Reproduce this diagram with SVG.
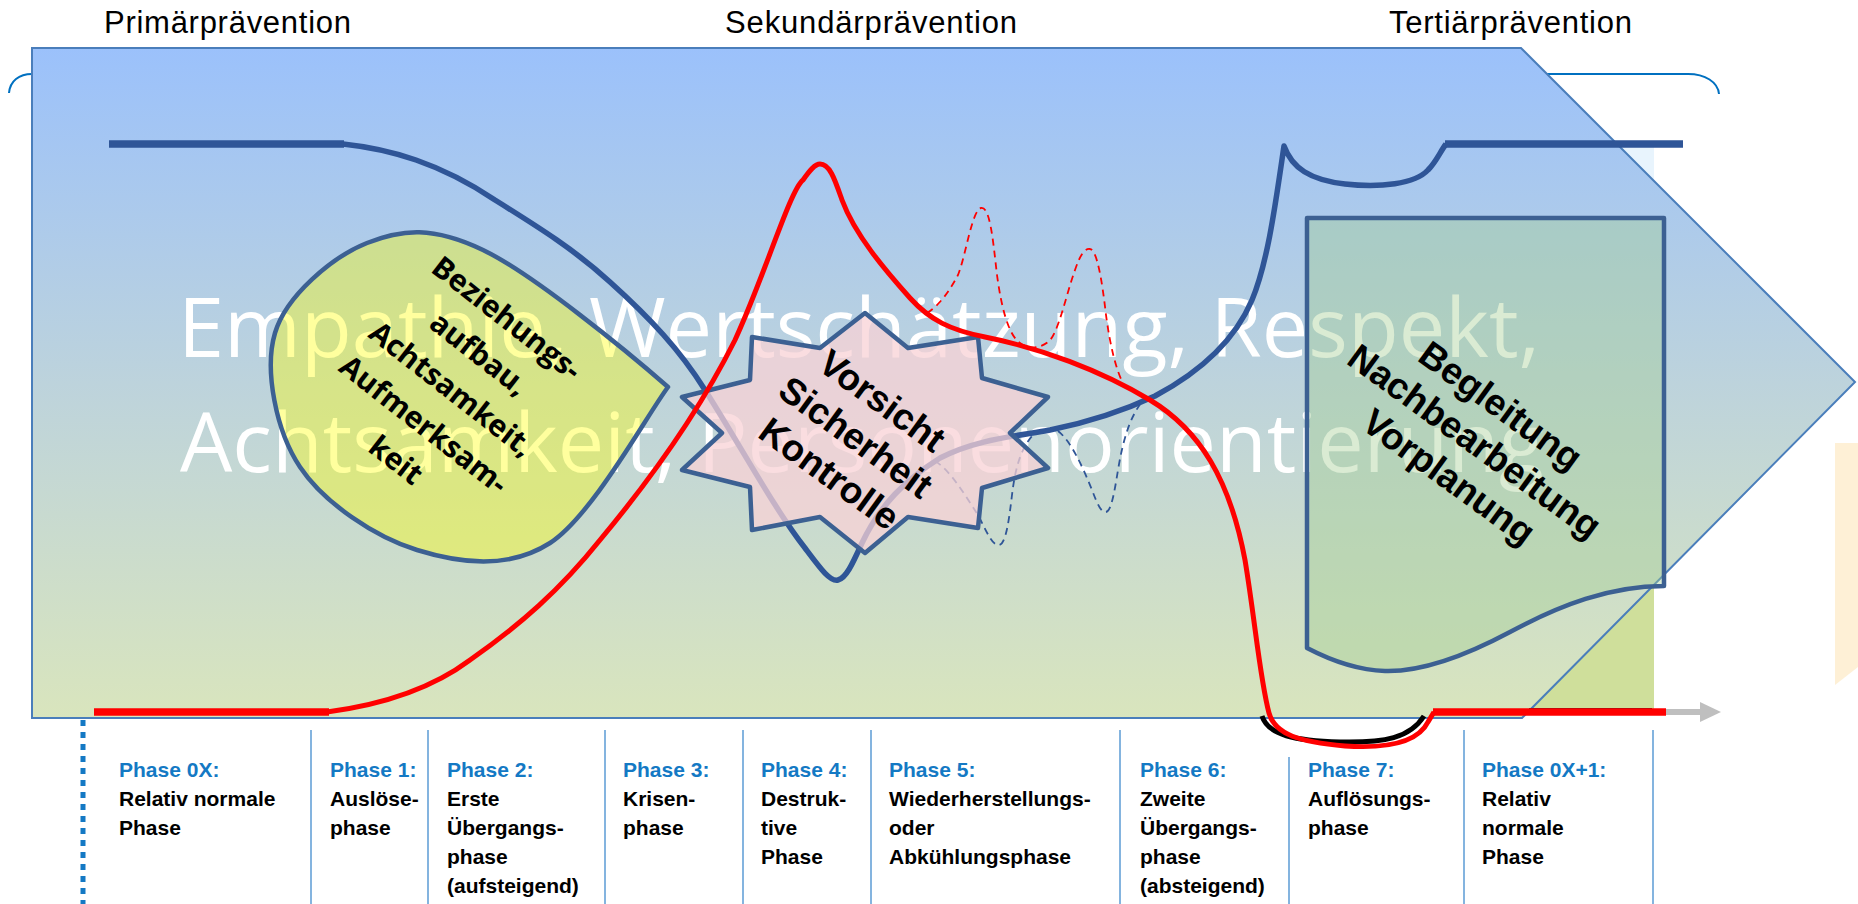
<svg xmlns="http://www.w3.org/2000/svg" width="1858" height="904" viewBox="0 0 1858 904">
  <defs>
    <linearGradient id="bandFill" gradientUnits="userSpaceOnUse" x1="0" y1="48" x2="0" y2="718">
      <stop offset="0" stop-color="#9BC1FB"/>
      <stop offset="0.5" stop-color="#BDD3DC"/>
      <stop offset="1" stop-color="#D9E5BD"/>
    </linearGradient>
    <linearGradient id="backFill" gradientUnits="userSpaceOnUse" x1="0" y1="147" x2="0" y2="709">
      <stop offset="0" stop-color="#E8F4FD"/>
      <stop offset="0.7" stop-color="#E8F4FD"/>
      <stop offset="0.76" stop-color="#CFDF9B"/>
      <stop offset="1" stop-color="#CFDF9B"/>
    </linearGradient>
    <style>
      .head { font-family: "Liberation Sans", Arial, sans-serif; font-size: 31px; fill: #000; }
      .mark { font-family: "Open Sans", "Liberation Sans", sans-serif; font-size: 83px; fill: #FFFFFF; }
      .drop { font-family: "Open Sans", "Liberation Sans", sans-serif; font-size: 30px; font-weight: bold; fill: #000; text-anchor: middle; }
      .bold { font-family: "Liberation Sans", Arial, sans-serif; font-size: 37px; font-weight: bold; fill: #000; text-anchor: middle; }
      .ph { font-family: "Liberation Sans", Arial, sans-serif; font-size: 21px; font-weight: bold; fill: #000; }
      .phn { fill: #1479C4; }
      .sep { stroke: #5B9BD5; stroke-width: 1.5; fill: none; }
      .shape { stroke: #3C6092; stroke-width: 4.5; stroke-linejoin: round; }
      .blue { stroke: #2F5597; fill: none; stroke-linecap: butt; stroke-linejoin: round; }
      .red { stroke: #FF0000; fill: none; stroke-linejoin: round; }
      .dash { stroke-width: 1.8; stroke-dasharray: 7 5; fill: none; }
    </style>
  </defs>

  <rect width="1858" height="904" fill="#FFFFFF"/>

  <!-- bracket spanning the three prevention levels -->
  <path id="bracket" d="M9,93 C10,81 19,74 32,74 H1688 C1705,74 1718,82 1719,94" fill="none" stroke="#0070C0" stroke-width="2"/>

  <!-- background panels behind the band -->
  <rect id="tertiary-panel" x="1300" y="147" width="354" height="562" fill="url(#backFill)"/>
  <polygon id="side-panel" points="1835,443 1858,443 1858,667 1835,685" fill="#FEF0D6"/>

  <!-- main band arrow -->
  <polygon id="band" points="32,48 1521,48 1855,382 1522,718 32,718" fill="url(#bandFill)" stroke="#4A7EBB" stroke-width="2" stroke-linejoin="miter"/>

  <!-- watermark values -->
  <g id="values">
    <text class="mark" x="178" y="357" textLength="1362" lengthAdjust="spacingAndGlyphs">Empathie, Wertschätzung, Respekt,</text>
    <text class="mark" x="180" y="472" textLength="1364" lengthAdjust="spacingAndGlyphs">Achtsamkeit, Personenorientierung</text>
  </g>

  <!-- teardrop: relationship building -->
  <g id="node-beziehung">
    <path class="shape" d="M668,387 C628,352 533,274 483,250 C433,226 402,229 367,243 C332,257 286,296 275,333 C264,370 276,431 300,467 C324,503 375,537 417,550 C459,563 508,570 550,543 C592,516 647,415 668,387 Z" fill="#FFFF00" fill-opacity="0.38"/>
  </g>

  <!-- document shape: aftercare -->
  <g id="node-begleitung">
    <path class="shape" d="M1307,218 H1664 V586 C1610,586 1560,605 1510,632 C1465,656 1420,672 1385,671 C1355,670 1330,660 1307,648 Z" fill="#A3CE91" fill-opacity="0.4"/>
  </g>

  <g id="connectors">
    <!-- tension curve (blue) -->
    <path class="blue" stroke-width="7.5" d="M109,144 H344"/>
    <path class="blue" stroke-width="5.5" d="M343,144 C390,149 440,163 495,200 C540,228 575,250 610,282 C650,318 680,350 705,390 C740,445 775,510 805,548 C820,568 830,582 838,580 C846,578 852,565 862,543 C880,505 905,480 940,458 C975,440 1010,437 1050,430 C1090,422 1125,410 1155,396 C1200,372 1235,340 1252,300 C1268,262 1276,200 1284,146 C1292,168 1310,180 1345,184 C1380,188 1415,184 1428,170 C1436,162 1440,152 1446,144"/>
    <path class="blue" stroke-width="7.5" d="M1445,144 H1683"/>
    <!-- possible relapses (dashed) -->
    <path class="blue dash" d="M935,461 C950,470 965,495 978,515 C986,530 992,546 999,545 C1006,544 1009,520 1012,495 C1015,470 1020,450 1032,436"/>
    <path class="blue dash" d="M1058,431 C1070,440 1082,465 1092,490 C1097,503 1101,513 1106,512 C1111,511 1114,495 1118,470 C1123,440 1130,415 1145,398"/>
    <path class="red dash" d="M927,313 C940,305 950,290 958,275 C966,255 972,210 981,208 C990,206 993,240 997,275 C1001,305 1008,335 1020,343 C1030,350 1040,348 1048,342 C1058,335 1066,295 1075,270 C1080,255 1085,248 1090,249 C1097,250 1102,280 1106,315 C1110,345 1116,370 1123,383"/>
  </g>

  <!-- star: safety -->
  <g id="node-vorsicht">
    <polygon class="shape" points="865,313 908,348 978,337 982,378 1048,397 1010,433 1048,468 982,488 978,528 908,517 865,553 820,517 752,530 750,487 682,470 722,433 682,397 750,380 752,337 820,348" fill="#F8D2D5" fill-opacity="0.75"/>
  </g>

  <g id="connectors-top">
    <!-- shadow of the dip below the baseline -->
    <path d="M1262,716 C1268,735 1295,741 1340,742 C1385,743 1410,738 1424,716" fill="none" stroke="#000" stroke-width="5"/>
    <line x1="1529" y1="708.5" x2="1652" y2="708.5" stroke="#222" stroke-width="1.2"/>
    <!-- arousal curve (red) -->
    <path class="red" stroke-width="7.5" d="M94,712 H329"/>
    <path class="red" stroke-width="5" d="M327,712 C380,705 430,690 470,660 C520,625 560,590 600,540 C650,480 700,410 735,340 C765,275 790,190 803,180 C810,170 815,164 820,164 C830,164 835,180 842,200 C855,235 885,270 910,298 C930,320 950,330 985,337 C1040,348 1100,370 1150,400 C1200,430 1230,480 1245,560 C1255,620 1260,680 1269,713 C1275,735 1300,742 1345,746 C1390,749 1418,742 1428,722 L1434,712"/>
    <path class="red" stroke-width="7.5" d="M1433,712 H1666"/>
    <!-- time axis continuation -->
    <line x1="1666" y1="712" x2="1703" y2="712" stroke="#BFBFBF" stroke-width="6"/>
    <polygon points="1700,702 1721,712 1700,722" fill="#BFBFBF"/>
  </g>

  <!-- labels inside the shapes -->
  <g id="label-beziehung" transform="translate(450,391) rotate(38)">
    <text class="drop" x="0" y="-82">Beziehungs-</text>
    <text class="drop" x="0" y="-37">aufbau,</text>
    <text class="drop" x="0" y="8">Achtsamkeit,</text>
    <text class="drop" x="0" y="53">Aufmerksam-</text>
    <text class="drop" x="0" y="98">keit</text>
  </g>
  <g id="label-vorsicht" transform="translate(856,437) rotate(36)">
    <text class="bold" x="0" y="-32">Vorsicht</text>
    <text class="bold" x="0" y="13">Sicherheit</text>
    <text class="bold" x="0" y="58">Kontrolle</text>
  </g>
  <g id="label-begleitung" transform="translate(1475,441) rotate(36)">
    <text class="bold" x="0" y="-31">Begleitung</text>
    <text class="bold" x="0" y="13">Nachbearbeitung</text>
    <text class="bold" x="0" y="57">Vorplanung</text>
  </g>

  <!-- prevention levels -->
  <g id="levels">
    <text class="head" x="104" y="33" textLength="247" lengthAdjust="spacing">Primärprävention</text>
    <text class="head" x="725" y="33" textLength="292" lengthAdjust="spacing">Sekundärprävention</text>
    <text class="head" x="1389" y="33" textLength="243" lengthAdjust="spacing">Tertiärprävention</text>
  </g>

  <!-- phase table -->
  <g id="phase-grid">
    <line x1="83" y1="720" x2="83" y2="904" stroke="#1479C4" stroke-width="5" stroke-dasharray="6 6"/>
    <line class="sep" x1="311" y1="730" x2="311" y2="904"/>
    <line class="sep" x1="428" y1="730" x2="428" y2="904"/>
    <line class="sep" x1="605" y1="730" x2="605" y2="904"/>
    <line class="sep" x1="743" y1="730" x2="743" y2="904"/>
    <line class="sep" x1="871" y1="730" x2="871" y2="904"/>
    <line class="sep" x1="1120" y1="730" x2="1120" y2="904"/>
    <line class="sep" x1="1289" y1="757" x2="1289" y2="904"/>
    <line class="sep" x1="1464" y1="730" x2="1464" y2="904"/>
    <line class="sep" x1="1653" y1="730" x2="1653" y2="904"/>
  </g>
  <g id="phase-0x" class="ph">
    <text x="119" y="777" class="phn">Phase 0X:</text>
    <text x="119" y="806">Relativ normale</text>
    <text x="119" y="835">Phase</text>
  </g>
  <g id="phase-1" class="ph">
    <text x="330" y="777" class="phn">Phase 1:</text>
    <text x="330" y="806">Auslöse-</text>
    <text x="330" y="835">phase</text>
  </g>
  <g id="phase-2" class="ph">
    <text x="447" y="777" class="phn">Phase 2:</text>
    <text x="447" y="806">Erste</text>
    <text x="447" y="835">Übergangs-</text>
    <text x="447" y="864">phase</text>
    <text x="447" y="893">(aufsteigend)</text>
  </g>
  <g id="phase-3" class="ph">
    <text x="623" y="777" class="phn">Phase 3:</text>
    <text x="623" y="806">Krisen-</text>
    <text x="623" y="835">phase</text>
  </g>
  <g id="phase-4" class="ph">
    <text x="761" y="777" class="phn">Phase 4:</text>
    <text x="761" y="806">Destruk-</text>
    <text x="761" y="835">tive</text>
    <text x="761" y="864">Phase</text>
  </g>
  <g id="phase-5" class="ph">
    <text x="889" y="777" class="phn">Phase 5:</text>
    <text x="889" y="806">Wiederherstellungs-</text>
    <text x="889" y="835">oder</text>
    <text x="889" y="864">Abkühlungsphase</text>
  </g>
  <g id="phase-6" class="ph">
    <text x="1140" y="777" class="phn">Phase 6:</text>
    <text x="1140" y="806">Zweite</text>
    <text x="1140" y="835">Übergangs-</text>
    <text x="1140" y="864">phase</text>
    <text x="1140" y="893">(absteigend)</text>
  </g>
  <g id="phase-7" class="ph">
    <text x="1308" y="777" class="phn">Phase 7:</text>
    <text x="1308" y="806">Auflösungs-</text>
    <text x="1308" y="835">phase</text>
  </g>
  <g id="phase-0x1" class="ph">
    <text x="1482" y="777" class="phn">Phase 0X+1:</text>
    <text x="1482" y="806">Relativ</text>
    <text x="1482" y="835">normale</text>
    <text x="1482" y="864">Phase</text>
  </g>
</svg>
